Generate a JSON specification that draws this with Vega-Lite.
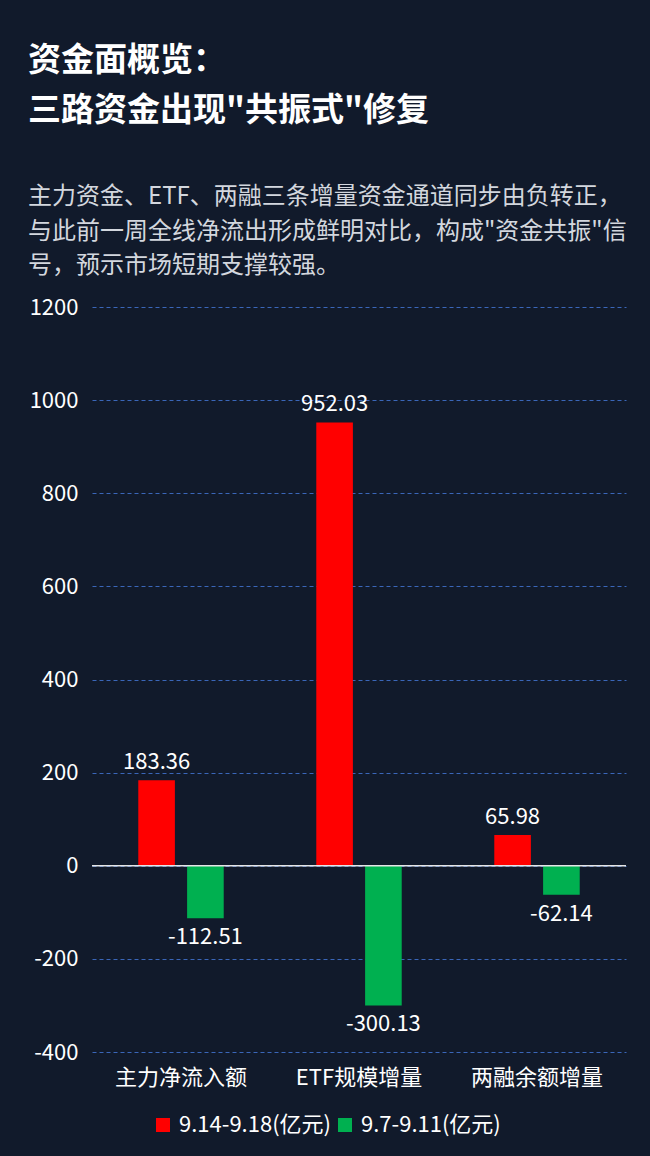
{
  "$schema": "https://vega.github.io/schema/vega-lite/v6.json",
  "autosize": {"type": "none"},
  "width": 534,
  "height": 745,
  "padding": {"left": 92, "top": 307, "right": 24, "bottom": 104},
  "background": "#111a2b",
  "config": {
    "font": "Noto Sans CJK SC",
    "view": {"stroke": null}
  },
  "title": {
    "text": ["资金面概览：", "三路资金出现\"共振式\"修复"],
    "subtitle": ["主力资金、ETF、两融三条增量资金通道同步由负转正，", "与此前一周全线净流出形成鲜明对比，构成\"资金共振\"信", "号，预示市场短期支撑较强。"],
    "anchor": "start",
    "frame": "group",
    "dx": -64,
    "offset": 18,
    "fontSize": 33,
    "fontWeight": "bold",
    "lineHeight": 50,
    "color": "#ffffff",
    "subtitleFontSize": 24,
    "subtitleLineHeight": 34.5,
    "subtitleColor": "#d3d7de",
    "subtitlePadding": 57,
    "font": "Noto Sans CJK SC",
    "subtitleFont": "Noto Sans CJK SC"
  },
  "data": {
    "values": [
      {"category": "主力净流入额", "period": "9.14-9.18(亿元)", "value": 183.36},
      {"category": "主力净流入额", "period": "9.7-9.11(亿元)", "value": -112.51},
      {"category": "ETF规模增量", "period": "9.14-9.18(亿元)", "value": 952.03},
      {"category": "ETF规模增量", "period": "9.7-9.11(亿元)", "value": -300.13},
      {"category": "两融余额增量", "period": "9.14-9.18(亿元)", "value": 65.98},
      {"category": "两融余额增量", "period": "9.7-9.11(亿元)", "value": -62.14}
    ]
  },
  "encoding": {
    "x": {
      "field": "category",
      "type": "nominal",
      "sort": ["主力净流入额", "ETF规模增量", "两融余额增量"],
      "scale": {"paddingInner": 0.52, "paddingOuter": 0.26},
      "axis": {
        "title": null,
        "labelAngle": 0,
        "labelColor": "#ffffff",
        "labelFontSize": 22,
        "labelPadding": 15,
        "domain": false,
        "ticks": false,
        "grid": false
      }
    },
    "xOffset": {
      "field": "period",
      "type": "nominal",
      "sort": ["9.14-9.18(亿元)", "9.7-9.11(亿元)"],
      "scale": {"paddingInner": 0.25}
    },
    "y": {
      "field": "value",
      "type": "quantitative",
      "scale": {"domain": [-400, 1200], "nice": false, "zero": false},
      "axis": {
        "title": null,
        "zindex": 0,
        "values": [-400, -200, 0, 200, 400, 600, 800, 1000, 1200],
        "labelExpr": "datum.value + ''",
        "labelColor": "#ffffff",
        "labelFontSize": 22,
        "labelPadding": 14,
        "domain": false,
        "ticks": false,
        "gridColor": "#3f6fc9",
        "gridDash": [4, 3],
        "gridWidth": 1,
        "gridOpacity": 0.9
      }
    }
  },
  "layer": [
    {
      "mark": {"type": "bar"},
      "encoding": {
        "color": {
          "field": "period",
          "type": "nominal",
          "sort": ["9.14-9.18(亿元)", "9.7-9.11(亿元)"],
          "scale": {"domain": ["9.14-9.18(亿元)", "9.7-9.11(亿元)"], "range": ["#ff0000", "#00b050"]},
          "legend": {
            "title": null,
            "orient": "none",
            "legendX": 60,
            "legendY": 807,
            "direction": "horizontal",
            "symbolType": "square",
            "symbolSize": 196,
            "symbolStrokeWidth": 0,
            "labelColor": "#ffffff",
            "labelFontSize": 22,
            "labelOffset": 5,
            "columnPadding": 3
          }
        }
      }
    },
    {
      "transform": [{"filter": "datum.value >= 0"}],
      "mark": {"type": "text", "baseline": "bottom", "dy": -6, "fontSize": 22, "color": "#ffffff"},
      "encoding": {
        "text": {"field": "value", "type": "nominal"}
      }
    },
    {
      "transform": [{"filter": "datum.value < 0"}],
      "mark": {"type": "text", "baseline": "top", "dy": 9, "fontSize": 22, "color": "#ffffff"},
      "encoding": {
        "text": {"field": "value", "type": "nominal"}
      }
    },
    {
      "data": {"values": [{"zero": 0}]},
      "mark": {"type": "rule", "color": "#e6e6e6", "strokeWidth": 1.5},
      "encoding": {
        "y": {"field": "zero", "type": "quantitative"},
        "x": null,
        "xOffset": null
      }
    }
  ]
}
